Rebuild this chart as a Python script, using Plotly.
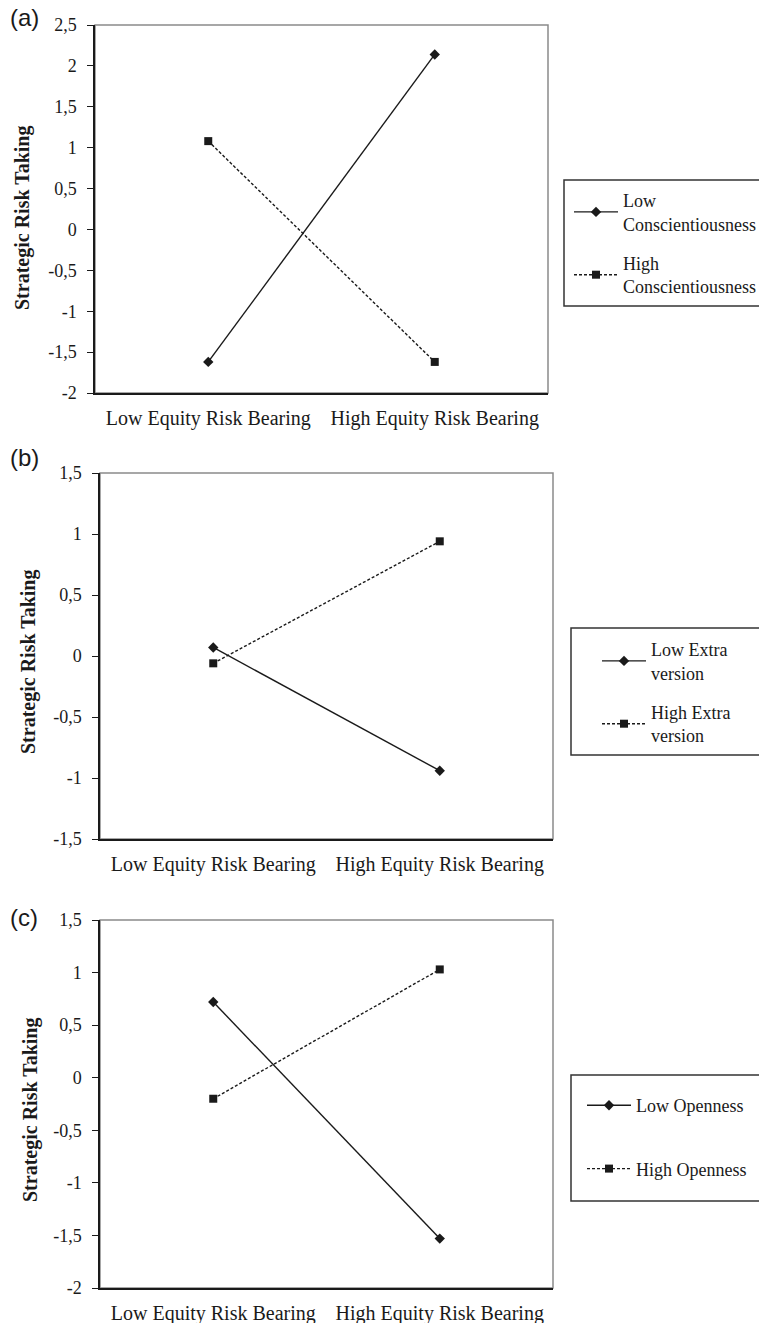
import plotly.graph_objects as go

W, H = 759, 1323

categories = ["Low Equity Risk Bearing", "High Equity Risk Bearing"]

# Panel (a)
a_low_consc = [-1.62, 2.14]
a_high_consc = [1.08, -1.62]
a_ticks = [2.5, 2, 1.5, 1, 0.5, 0, -0.5, -1, -1.5, -2]
a_ticktext = ["2,5", "2", "1,5", "1", "0,5", "0", "-0,5", "-1", "-1,5", "-2"]

# Panel (b)
b_low_extra = [0.07, -0.94]
b_high_extra = [-0.06, 0.94]
b_ticks = [1.5, 1, 0.5, 0, -0.5, -1, -1.5]
b_ticktext = ["1,5", "1", "0,5", "0", "-0,5", "-1", "-1,5"]

# Panel (c)
c_low_open = [0.72, -1.53]
c_high_open = [-0.20, 1.03]
c_ticks = [1.5, 1, 0.5, 0, -0.5, -1, -1.5, -2]
c_ticktext = ["1,5", "1", "0,5", "0", "-0,5", "-1", "-1,5", "-2"]

names = {
    "a": ["Low<br>Conscientiousness", "High<br>Conscientiousness"],
    "b": ["Low Extra<br>version", "High Extra<br>version"],
    "c": ["Low Openness", "High Openness"],
}

SERIF = "Liberation Serif, Times New Roman, serif"
SANS = "Liberation Sans, Arial, sans-serif"
INK = "#1a1a1a"


def px(x):
    return x / W


def py(y):
    return 1 - y / H


panels = [
    dict(key="a", l=95, t=25, r=548, b=393, yr=[-2, 2.5], tv=a_ticks, tt=a_ticktext,
         s=[a_low_consc, a_high_consc], box=(564, 180, 306), leg=(569, 182), gap=13,
         tx=22, ty=218, lab_y=17),
    dict(key="b", l=100, t=473, r=553, b=839, yr=[-1.5, 1.5], tv=b_ticks, tt=b_ticktext,
         s=[b_low_extra, b_high_extra], box=(571, 628, 755), leg=(597, 631), gap=13,
         tx=28, ty=662, lab_y=458),
    dict(key="c", l=100, t=920, r=553, b=1288, yr=[-2, 1.5], tv=c_ticks, tt=c_ticktext,
         s=[c_low_open, c_high_open], box=(571, 1075, 1201), leg=(582, 1087), gap=37,
         tx=30, ty=1110, lab_y=917),
]

fig = go.Figure()
layout = dict(
    width=W, height=H,
    margin=dict(l=0, r=0, t=0, b=0, autoexpand=False),
    paper_bgcolor="white", plot_bgcolor="white",
    showlegend=True,
    font=dict(family=SERIF, color=INK),
)
shapes = []
annotations = []

for i, p in enumerate(panels):
    n = "" if i == 0 else str(i + 1)
    xa = "x" + n
    ya = "y" + n
    lg = "legend" + n
    styles = [
        dict(line=dict(color=INK, width=1.4, dash="solid"),
             marker=dict(symbol="diamond", size=8, color=INK)),
        dict(line=dict(color=INK, width=1.4, dash="3px,2px"),
             marker=dict(symbol="square", size=8, color=INK)),
    ]
    for j, vals in enumerate(p["s"]):
        fig.add_trace(go.Scatter(
            x=categories, y=vals, mode="lines+markers",
            name=names[p["key"]][j], xaxis=xa, yaxis=ya, legend=lg,
            legendgroup=p["key"] + str(j),
            line=styles[j]["line"], marker=styles[j]["marker"],
            hoverinfo="skip",
        ))
    layout["xaxis" + n] = dict(
        domain=[px(p["l"]), px(p["r"])], anchor=ya,
        type="category", range=[-0.5, 1.5],
        showline=True, linecolor=INK, linewidth=1.5,
        ticks="", showgrid=False, zeroline=False,
        tickfont=dict(family=SERIF, size=20, color=INK),
        ticklabelstandoff=6, fixedrange=True,
    )
    layout["yaxis" + n] = dict(
        domain=[py(p["b"]), py(p["t"])], anchor=xa,
        range=p["yr"], tickvals=p["tv"], ticktext=p["tt"],
        showline=True, linecolor=INK, linewidth=1.5,
        ticks="outside", ticklen=6, tickcolor=INK, tickwidth=1.2,
        showgrid=False, zeroline=False,
        tickfont=dict(family=SERIF, size=18, color=INK),
        ticklabelstandoff=7, fixedrange=True,
    )
    layout[lg] = dict(
        x=px(p["leg"][0]), y=py(p["leg"][1]), xanchor="left", yanchor="top",
        xref="paper", yref="paper",
        bgcolor="rgba(0,0,0,0)", borderwidth=0,
        font=dict(family=SERIF, size=18, color=INK),
        traceorder="grouped", tracegroupgap=p["gap"], itemwidth=44,
    )
    shapes.append(dict(type="rect", xref=xa + " domain", yref=ya + " domain",
                       x0=0, x1=1, y0=0, y1=1, line=dict(color="#8a8a8a", width=1.5),
                       layer="below"))
    bx0, by0, by1 = p["box"]
    shapes.append(dict(type="rect", xref="paper", yref="paper",
                       x0=px(bx0), x1=px(800), y0=py(by1), y1=py(by0),
                       line=dict(color="#333333", width=1.5), layer="below"))
    annotations.append(dict(text="Strategic Risk Taking", xref="paper", yref="paper",
                            x=px(p["tx"]), y=py(p["ty"]), textangle=-90,
                            showarrow=False, xanchor="center", yanchor="middle",
                            font=dict(family=SERIF, size=20, color=INK, weight="bold")))
    annotations.append(dict(text="(" + p["key"] + ")", xref="paper", yref="paper",
                            x=px(24), y=py(p["lab_y"]), showarrow=False,
                            xanchor="center", yanchor="middle",
                            font=dict(family=SANS, size=24, color=INK)))

layout["shapes"] = shapes
layout["annotations"] = annotations
fig.update_layout(**layout)
fig.write_html("out.html", config={"displayModeBar": False},
               post_script="document.body.style.margin='0';")
